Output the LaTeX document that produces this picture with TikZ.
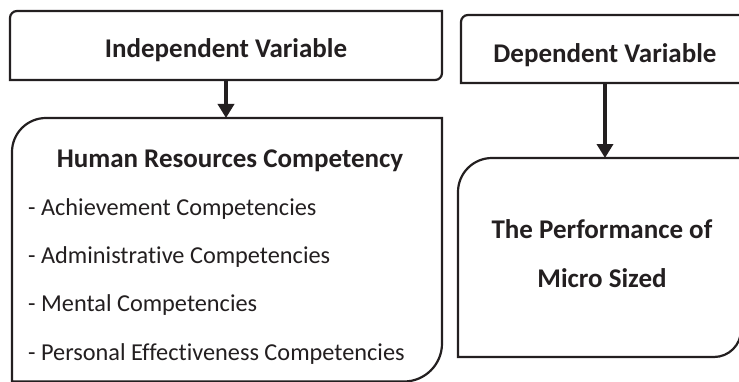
\documentclass[tikz,border=0pt]{standalone}
\usepackage{fontspec}
\setmainfont{Carlito}[Ligatures={NoCommon}]
\usepackage{tikz}
\usetikzlibrary{arrows.meta,positioning}
\definecolor{FrameBlack}{HTML}{231F20}

\begin{document}
\begin{tikzpicture}[x=1pt, y=1pt,
  box/.style={draw=none, inner sep=0, outer sep=0},
  frame/.style={line width=2.2pt, draw=FrameBlack},
  head/.style={inner sep=0, text=FrameBlack, font=\fontsize{27}{32}\selectfont\bfseries},
  item/.style={inner sep=0, text=FrameBlack, font=\fontsize{24.3}{28}\selectfont},
  flow/.style={line width=4pt, draw=FrameBlack, -{Triangle[length=14pt, width=16pt]}}]
\fill[white] (0, 0) rectangle (739, 381);
\useasboundingbox (0, 0) rectangle (739, 381);

% Boxes (empty, only sizes and anchors)
\node[box, minimum width=432, minimum height=69] (indep) at (226, 335.5) {};
\node[box, minimum width=288, minimum height=68] (dep) at (605, 332) {};
\node[box, minimum width=430, minimum height=263.5] (hrc) at (227, 131.25) {};
\node[box, minimum width=283, minimum height=199] (perf) at (599.5, 123.5) {};

% Outlines - top left and bottom right corners rounded
\foreach \n/\ra/\rb in {indep/7/7, dep/7/7, hrc/34/38, perf/34/27}
{
  \draw[frame] (\n.south west) -- ([yshift=-\ra]\n.north west)
    arc[start angle=180, end angle=90, radius=\ra] -- (\n.north east)
    -- ([yshift=\rb]\n.south east)
    arc[start angle=0, end angle=-90, radius=\rb] -- cycle;
}

% Arrows
\draw[flow] (indep.south) -- (indep.south |- hrc.north);
\draw[flow] (dep.south) -- (dep.south |- perf.north);

% Titles
\node[head, anchor=base] (indeptxt) at (226, 323) {Independent Variable};
\node[head, anchor=base] (deptxt) at (605, 318) {Dependent Variable};
\node[head, anchor=base] (hrctxt) at (230, 214) {Human Resources Competency};
\node[head, anchor=base] (perftxt) at (602, 143) {The Performance of};
\node[head, anchor=base] (perftxtb) at (602, 94) {Micro Sized};

% Competency list
\foreach \t [count=\i] in {Achievement Competencies, Administrative Competencies,
  Mental Competencies, Personal Effectiveness Competencies}
{
  \node[item, anchor=base west] (item\i) at (28, 214-48.3*\i) {- \t};
}

\end{tikzpicture}
\end{document}
